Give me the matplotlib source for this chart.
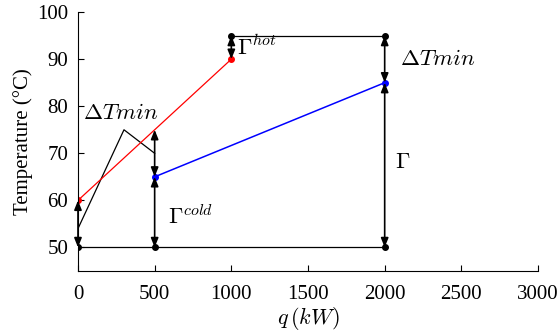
import matplotlib
matplotlib.use("Agg")
import matplotlib.pyplot as plt

plt.rcParams['font.family'] = ['Liberation Serif', 'DejaVu Serif']
plt.rcParams['mathtext.fontset'] = 'cm'

# hot stream (red), cold stream (blue)
hot_q = [0, 1000]
hot_T = [60, 90]
cold_q = [500, 2000]
cold_T = [65, 85]

# utility / reference lines (black)
base_q = [0, 500, 2000]
base_T = [50, 50, 50]
top_q = [1000, 2000]
top_T = [95, 95]

# thin black pointer line
ptr_q = [0, 300, 500]
ptr_T = [54, 75, 70]

# double arrows: (q, T_from, T_to)
arrows = [
    (0, 50, 60),
    (500, 50, 65),
    (500, 65, 75),
    (1000, 90, 95),
    (2000, 50, 85),
    (2000, 85, 95),
]

# annotations: (q, T, text)
labels = [
    (30, 78.5, r'$\Delta Tmin$'),
    (590, 56.5, r'$\Gamma^{cold}$'),
    (1040, 92.5, r'$\Gamma^{hot}$'),
    (2100, 90, r'$\Delta Tmin$'),
    (2070, 68, r'$\Gamma$'),
]

fig = plt.figure(figsize=(5.59, 3.36), dpi=100)
ax = fig.add_axes([0.1395, 0.1935, 0.823, 0.7705])

ax.plot(ptr_q, ptr_T, color='black', linewidth=0.9)
ax.plot(base_q, base_T, color='black', linewidth=0.9, marker='o', markersize=4)
ax.plot(top_q, top_T, color='black', linewidth=0.9, marker='o', markersize=4)
ax.plot(hot_q, hot_T, color='red', linewidth=0.9, marker='o', markersize=4)
ax.plot(cold_q, cold_T, color='blue', linewidth=1.1, marker='o', markersize=4)

for q, t0, t1 in arrows:
    ax.annotate('', xy=(q, t1), xytext=(q, t0),
                arrowprops=dict(arrowstyle='<|-|>,head_length=0.55,head_width=0.22',
                                color='black', linewidth=1.2,
                                shrinkA=0, shrinkB=0))

for q, t, s in labels:
    ax.text(q, t, s, fontsize=16.5, ha='left', va='center')

ax.set_xlim(0, 3000)
ax.set_ylim(45, 100)
ax.set_xticks(range(0, 3001, 500))
ax.set_yticks(range(50, 101, 10))
ax.tick_params(direction='in', labelsize=15, length=4, width=0.8)
ax.tick_params(axis='x', pad=10)
ax.tick_params(axis='y', pad=7)
ax.spines['top'].set_visible(False)
ax.spines['right'].set_visible(False)
ax.set_xlabel(r'$q\,(kW)$', fontsize=16, labelpad=1)
ax.set_ylabel('Temperature (°C)', fontsize=15, labelpad=3)

fig.savefig('out.png', dpi=100)
